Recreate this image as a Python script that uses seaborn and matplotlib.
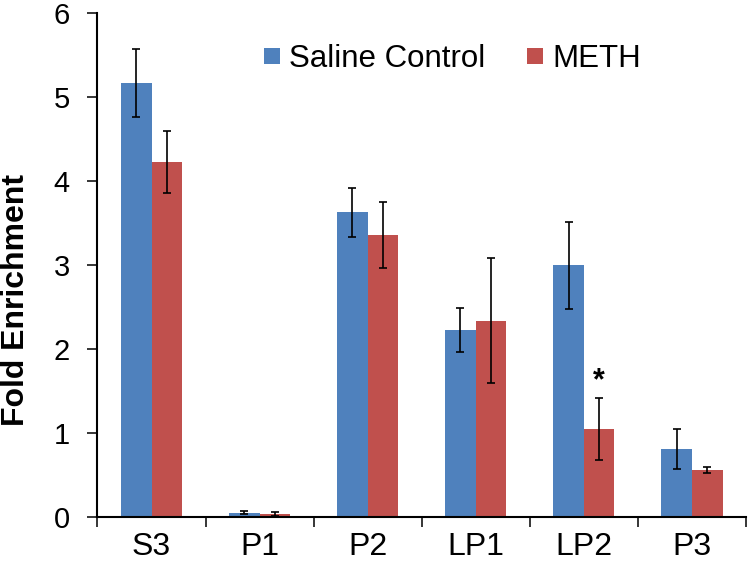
import pandas as pd
import matplotlib
matplotlib.use('Agg')
import matplotlib.pyplot as plt
import seaborn as sns

# values
fractions = ['S3', 'P1', 'P2', 'LP1', 'LP2', 'P3']
saline = [5.17, 0.05, 3.63, 2.23, 3.00, 0.81]
saline_err = [0.41, 0.02, 0.29, 0.26, 0.52, 0.24]
meth = [4.23, 0.04, 3.36, 2.34, 1.05, 0.56]
meth_err = [0.37, 0.025, 0.39, 0.74, 0.37, 0.03]
groups = ['Saline Control', 'METH']
colors = ['#4F81BD', '#C0504D']

df = pd.DataFrame({
    'fraction': fractions * 2,
    'fold': saline + meth,
    'group': [groups[0]] * len(fractions) + [groups[1]] * len(fractions),
})

sns.set_style('white', {'text.color': 'black', 'axes.labelcolor': 'black',
                        'xtick.color': 'black', 'ytick.color': 'black'})
plt.rcParams['font.family'] = ['Liberation Sans', 'DejaVu Sans']

fig = plt.figure(figsize=(7.48, 5.67), dpi=100)
ax = fig.add_axes([0.1303, 0.0882, 0.867, 0.8883])

sns.barplot(data=df, x='fraction', y='fold', hue='group', order=fractions,
            hue_order=groups, palette=colors, saturation=1, width=0.567,
            gap=0, errorbar=None, linewidth=0, edgecolor='none', ax=ax)

# error bars on the drawn bars
for cont, errs in zip(ax.containers, [saline_err, meth_err]):
    xs = [p.get_x() + p.get_width() / 2 for p in cont]
    hs = [p.get_height() for p in cont]
    ax.errorbar(xs, hs, yerr=errs, fmt='none', ecolor='black',
                elinewidth=1.2, capsize=2.6, capthick=1.2, zorder=5)

# significance star over METH LP2
i = fractions.index('LP2')
p = ax.containers[1][i]
ax.text(p.get_x() + p.get_width() / 2, meth[i] + meth_err[i] + 0.02, '*',
        ha='center', va='bottom', fontsize=22, fontweight='bold',
        color='black')

ax.set_xlim(-0.5, len(fractions) - 0.5)
ax.set_ylim(0, 6)
ax.set_yticks(range(0, 7))
ax.set_xlabel('')
ax.set_ylabel('Fold Enrichment', fontsize=23, fontweight='bold',
              color='black')
ax.yaxis.set_label_coords(-0.103, 0.43)

for s in ['top', 'right']:
    ax.spines[s].set_visible(False)
for s in ['left', 'bottom']:
    ax.spines[s].set_linewidth(1.5)
    ax.spines[s].set_color('black')

ax.tick_params(axis='y', direction='out', length=7, width=1.1,
               labelsize=21, pad=13, left=True, colors='black')
ax.tick_params(axis='x', which='major', length=0, labelsize=23, pad=11,
               colors='black')
ax.set_xticks([k - 0.5 for k in range(len(fractions) + 1)], minor=True)
ax.tick_params(axis='x', which='minor', direction='out', length=7,
               width=1.1, bottom=True, colors='black')

leg = ax.get_legend()
handles = leg.legend_handles
labels = [t.get_text() for t in leg.texts]
ax.legend(handles, labels, ncol=2, frameon=False, fontsize=22.5,
          loc='center left', bbox_to_anchor=(264 / 748, 1 - 59 / 567),
          bbox_transform=fig.transFigure, borderpad=0, borderaxespad=0,
          handlelength=0.5, handleheight=0.39, handletextpad=0.3,
          columnspacing=1.35, labelcolor='black')

plt.savefig('out.png', dpi=100)
